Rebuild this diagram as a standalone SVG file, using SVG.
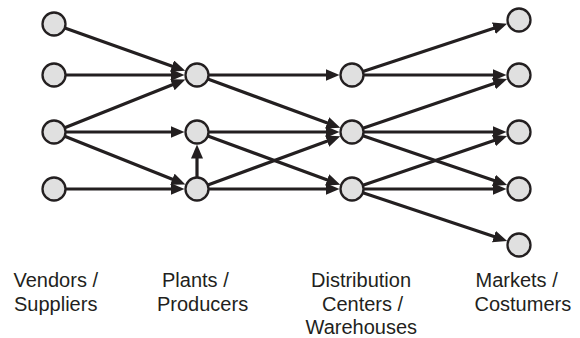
<svg xmlns="http://www.w3.org/2000/svg" width="580" height="338" viewBox="0 0 580 338">
<style>
.n{fill:#e0e0e0;stroke:#231f20;stroke-width:2.3}
.e{stroke:#231f20;stroke-width:3.2;fill:none;marker-end:url(#ah)}
.t{font-family:"Liberation Sans",Arial,sans-serif;font-size:20px;fill:#231f20}
</style>
<defs>
<marker id="ah" markerUnits="userSpaceOnUse" markerWidth="15" markerHeight="13" refX="4" refY="6" orient="auto">
<path d="M0,0 L14,6 L0,12 z" fill="#231f20"/>
</marker>
</defs>
<rect width="580" height="338" fill="#fff"/>
<g id="connectors">
<line class="e" x1="64.8" y1="27.9" x2="175.8" y2="67.4"/>
<line class="e" x1="65.5" y1="75" x2="174.5" y2="75"/>
<line class="e" x1="64.7" y1="127.7" x2="176.1" y2="83.3"/>
<line class="e" x1="65.5" y1="132" x2="174.5" y2="132"/>
<line class="e" x1="64.7" y1="136.3" x2="176.1" y2="180.7"/>
<line class="e" x1="65.5" y1="189" x2="174.5" y2="189"/>
<line class="e" x1="197" y1="177.5" x2="197" y2="154.5"/>
<line class="e" x1="208.5" y1="75" x2="329.5" y2="75"/>
<line class="e" x1="207.8" y1="79" x2="330.9" y2="124.2"/>
<line class="e" x1="208.5" y1="132" x2="329.5" y2="132"/>
<line class="e" x1="207.8" y1="136" x2="330.9" y2="181.2"/>
<line class="e" x1="207.8" y1="185" x2="330.9" y2="139.8"/>
<line class="e" x1="208.5" y1="189" x2="329.5" y2="189"/>
<line class="e" x1="362.9" y1="71.4" x2="497.6" y2="27"/>
<line class="e" x1="363.5" y1="75" x2="496.5" y2="75"/>
<line class="e" x1="362.9" y1="128.3" x2="497.7" y2="82.3"/>
<line class="e" x1="363.5" y1="132" x2="496.5" y2="132"/>
<line class="e" x1="362.9" y1="135.7" x2="497.7" y2="181.7"/>
<line class="e" x1="362.9" y1="185.3" x2="497.7" y2="139.3"/>
<line class="e" x1="363.5" y1="189" x2="496.5" y2="189"/>
<line class="e" x1="362.9" y1="192.7" x2="497.7" y2="237.8"/>
</g>
<g id="v1"><circle class="n" cx="54" cy="24" r="11.5"/></g>
<g id="v2"><circle class="n" cx="54" cy="75" r="11.5"/></g>
<g id="v3"><circle class="n" cx="54" cy="132" r="11.5"/></g>
<g id="v4"><circle class="n" cx="54" cy="189" r="11.5"/></g>
<g id="p1"><circle class="n" cx="197" cy="75" r="11.5"/></g>
<g id="p2"><circle class="n" cx="197" cy="132" r="11.5"/></g>
<g id="p3"><circle class="n" cx="197" cy="189" r="11.5"/></g>
<g id="d1"><circle class="n" cx="352" cy="75" r="11.5"/></g>
<g id="d2"><circle class="n" cx="352" cy="132" r="11.5"/></g>
<g id="d3"><circle class="n" cx="352" cy="189" r="11.5"/></g>
<g id="m1"><circle class="n" cx="519" cy="20" r="11.5"/></g>
<g id="m2"><circle class="n" cx="519" cy="75" r="11.5"/></g>
<g id="m3"><circle class="n" cx="519" cy="132" r="11.5"/></g>
<g id="m4"><circle class="n" cx="519" cy="189" r="11.5"/></g>
<g id="m5"><circle class="n" cx="519" cy="245" r="11.5"/></g>
<g id="labels">
<text class="t" x="13.5" y="287">Vendors /</text>
<text class="t" x="14" y="310.5">Suppliers</text>
<text class="t" x="162" y="287">Plants /</text>
<text class="t" x="157" y="310.5">Producers</text>
<text class="t" x="311" y="287">Distribution</text>
<text class="t" x="322" y="310.5">Centers /</text>
<text class="t" x="305.5" y="333.5">Warehouses</text>
<text class="t" x="475.5" y="287">Markets /</text>
<text class="t" x="474.5" y="310.5">Costumers</text>
</g>
</svg>
